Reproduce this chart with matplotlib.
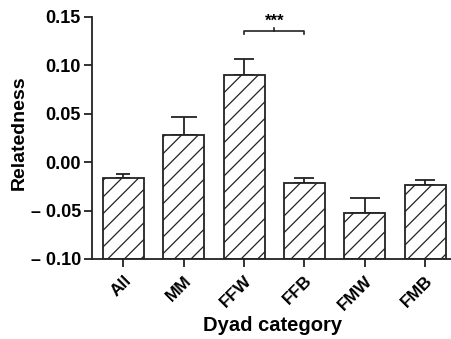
import matplotlib
matplotlib.use("Agg")
import matplotlib.pyplot as plt
import numpy as np

plt.rcParams['font.family'] = ['Liberation Sans', 'DejaVu Sans']
plt.rcParams['hatch.linewidth'] = 0.9
plt.rcParams['hatch.color'] = '#222222'

categories = ["All", "MM", "FFW", "FFB", "FMW", "FMB"]
values = [-0.016, 0.028, 0.090, -0.021, -0.053, -0.024]
errors = [0.0035, 0.019, 0.017, 0.0045, 0.016, 0.0055]
yticks = [-0.10, -0.05, 0.00, 0.05, 0.10, 0.15]
ytick_labels = ["\u2013 0.10", "\u2013 0.05", "0.00", "0.05", "0.10", "0.15"]

cap_sizes = [5, 9.5, 7.5, 7, 10.5, 7]

fig = plt.figure(figsize=(4.52, 3.39), dpi=100)
ax = fig.add_axes([0.2035, 0.236, 0.80, 0.714])

x = np.arange(len(categories))
base = -0.10
ax.bar(x, np.array(values) - base, bottom=base, width=0.68, color='white',
       edgecolor='#222222', linewidth=1.3, hatch='//', zorder=2)
for xi, v, e, cs in zip(x, values, errors, cap_sizes):
    ax.errorbar([xi], [v], yerr=[[0], [e]], fmt='none',
                ecolor='#222222', elinewidth=1.3, capsize=cs, capthick=1.3, zorder=1)

# significance bracket between FFW and FFB
yb = 0.135
ax.plot([2, 2, 3, 3], [yb - 0.003, yb, yb, yb - 0.003], color='#222222', lw=1.2, clip_on=False)
ax.plot([2.5, 2.5], [yb, yb + 0.004], color='#222222', lw=1.2, clip_on=False)
ax.text(2.5, yb + 0.003, "***", ha='center', va='bottom', fontsize=12, fontweight='bold')

ax.set_ylim(-0.10, 0.15)
ax.set_xlim(-0.52, 5.47)
ax.set_yticks(yticks)
ax.set_yticklabels(ytick_labels, fontsize=13, fontweight='bold')
ax.set_xticks(x)
ax.set_xticklabels(categories, rotation=45, ha='right', rotation_mode='anchor',
                   fontsize=12.5, fontweight='bold')
ax.tick_params(axis='both', direction='out', length=6, width=1.3, color='#222222', pad=2)
ax.tick_params(axis='x', pad=4)
for s in ['top', 'right']:
    ax.spines[s].set_visible(False)
for s in ['left', 'bottom']:
    ax.spines[s].set_linewidth(1.3)
    ax.spines[s].set_color('#222222')

ax.set_ylabel("Relatedness", fontsize=14, fontweight='bold')
ax.yaxis.set_label_coords(-0.178, 0.52)
ax.set_xlabel("Dyad category", fontsize=14.5, fontweight='bold', labelpad=2)

fig.savefig("out.png", dpi=100)
